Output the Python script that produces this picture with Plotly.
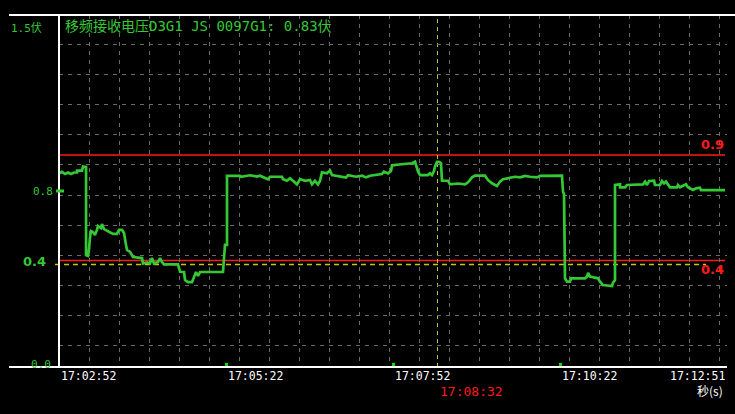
import plotly.graph_objects as go

# ---- data (seconds after 17:02:52, volts) ----
t_sec = [0, 2.7, 5.4, 8.1, 10.8, 13.5, 16.2, 16.2, 20.7, 21.6,
         24.3, 24.3, 26.0, 26.9, 27.8, 28.7, 30.5, 32.3, 34.1, 35.0,
         37.7, 38.6, 40.4, 44.0, 48.5, 52.1, 53.9, 56.6, 58.4, 60.2,
         61.1, 63.8, 66.5, 74.6, 75.4, 79.0, 81.7, 83.5, 85.3, 88.9,
         90.7, 92.5, 94.3, 106.9, 108.7, 112.3, 113.2, 115.9, 119.5, 121.3,
         123.1, 124.9, 126.7, 147.3, 148.2, 149.1, 150.9, 150.9, 162.6, 163.5,
         171.6, 177.8, 180.5, 184.1, 187.7, 189.5, 200.3, 201.2, 204.8, 207.5,
         212.0, 213.8, 216.5, 221.0, 225.4, 227.2, 229.9, 232.6, 234.4, 236.2,
         240.7, 243.4, 245.2, 252.4, 257.8, 259.6, 266.8, 272.2, 275.7, 279.3,
         286.5, 290.1, 291.9, 295.5, 298.2, 299.1, 305.4, 310.8, 317.1, 319.8,
         320.7, 322.5, 324.3, 331.4, 333.2, 335.0, 336.8, 337.7, 339.5, 341.3,
         343.1, 344.0, 349.4, 351.2, 358.4, 364.7, 367.4, 371.0, 373.7, 382.6,
         385.3, 388.9, 393.4, 396.1, 398.8, 402.4, 409.6, 414.1, 418.6, 423.1,
         429.4, 432.0, 438.3, 451.8, 452.7, 453.6, 454.5, 456.3, 459.0, 459.9,
         472.5, 474.3, 475.2, 477.0, 484.1, 485.9, 488.6, 496.7, 497.6, 499.4,
         499.4, 503.9, 503.9, 508.4, 510.2, 524.6, 526.4, 528.2, 530.0, 534.5,
         535.3, 539.8, 541.6, 543.4, 545.2, 547.0, 548.8, 555.1, 556.0, 557.8,
         560.5, 563.2, 564.9, 569.5, 572.2, 575.7, 576.6, 598.2]

volts = [.813, .820, .810, .817, .810, .817, .817, .826, .826, .845,
         .843, .426, .422, .450, .507, .540, .535, .521, .545, .564,
         .554, .573, .549, .540, .526, .526, .545, .545, .531, .474,
         .450, .441, .417, .412, .386, .391, .386, .412, .386, .393,
         .412, .393, .382, .382, .347, .346, .308, .298, .298, .322,
         .346, .327, .346, .346, .393, .474, .474, .801, .801, .797,
         .804, .798, .802, .794, .785, .797, .797, .785, .778, .790,
         .771, .761, .786, .778, .782, .761, .778, .761, .777, .818,
         .813, .826, .805, .797, .793, .804, .797, .802, .794, .802,
         .807, .810, .821, .813, .824, .851, .855, .857, .861, .868,
         .848, .821, .805, .805, .813, .805, .824, .845, .868, .868,
         .861, .778, .778, .761, .765, .761, .771, .794, .802, .802,
         .782, .766, .753, .774, .785, .790, .797, .794, .801, .797,
         .794, .801, .802, .802, .726, .715, .316, .300, .300, .316,
         .316, .324, .342, .324, .316, .300, .284, .279, .295, .308,
         .758, .761, .747, .747, .758, .761, .774, .758, .777, .778,
         .758, .758, .777, .766, .774, .758, .747, .747, .758, .747,
         .755, .761, .747, .734, .742, .745, .734, .734]

assert len(t_sec) == len(volts), (len(t_sec), len(volts))

tick_secs = [0, 150, 300, 450]
tick_labels = ["17:02:52", "17:05:22", "17:07:52", "17:10:22"]
end_sec = 600
end_label = "17:12:51"
cursor_sec = 340
cursor_label = "17:08:32"
upper_limit = 0.9
lower_limit = 0.4
ref_level = 0.382
title_text = "移频接收电压D3G1 JS 0097G1: 0.83伏"

GREEN = "#34c834"
RED = "#ff1a1a"
YEL = "#c8c800"
GRID = "#6a6a6a"
MONO = "DejaVu Sans Mono, Noto Sans CJK SC"

W, H = 735, 414
L, R, T, B = 59, 8, 15, 47
PW, PH = W - L - R, H - T - B


def px(xp):
    return (xp - L) / PW


def py(yp):
    return (H - B - yp) / PH


fig = go.Figure()
fig.add_trace(go.Scatter(x=t_sec, y=volts, mode="lines",
                         line=dict(color=GREEN, width=2.7),
                         hoverinfo="skip", showlegend=False))

fig.update_layout(
    width=W, height=H,
    margin=dict(l=L, r=R, t=T, b=B, pad=0),
    paper_bgcolor="#000000", plot_bgcolor="#000000",
    showlegend=False,
    xaxis=dict(range=[0, end_sec], showgrid=False, zeroline=False,
               tickmode="array", tickvals=tick_secs, showticklabels=False,
               ticks="inside", ticklen=4, tickwidth=3, tickcolor="#00e000",
               showline=False, fixedrange=True,
               minor=dict(tickmode="linear", tick0=0, dtick=26.946,
                          showgrid=True, gridcolor=GRID, gridwidth=1,
                          griddash="4px,5px", ticks="")),
    yaxis=dict(range=[-0.104, 1.563], tickmode="linear", tick0=0, dtick=0.14211,
               showgrid=True, gridcolor=GRID, gridwidth=1, griddash="4px,5px",
               showticklabels=False, zeroline=False, ticks="", fixedrange=True),
)

shapes = []
# frame
shapes.append(dict(type="line", xref="paper", yref="paper", x0=px(9), x1=px(735), y0=1, y1=1,
                   line=dict(color="white", width=2)))
shapes.append(dict(type="line", xref="paper", yref="paper", x0=px(9), x1=1, y0=0, y1=0,
                   line=dict(color="white", width=2)))
shapes.append(dict(type="line", xref="paper", yref="paper", x0=0, x1=0, y0=0, y1=1,
                   line=dict(color="white", width=2)))
# limit lines
for lv in (upper_limit, lower_limit):
    shapes.append(dict(type="line", xref="paper", yref="y", x0=0, x1=px(725), y0=lv, y1=lv,
                       line=dict(color=RED, width=1.5), layer="below"))
# reference dashed
shapes.append(dict(type="line", xref="paper", yref="y", x0=px(55), x1=px(706), y0=ref_level, y1=ref_level,
                   line=dict(color=YEL, width=1.5, dash="5px,4px"), layer="below"))
# cursor
shapes.append(dict(type="line", xref="x", yref="paper", x0=cursor_sec, x1=cursor_sec, y0=0, y1=1,
                   line=dict(color=YEL, width=1, dash="4px,4px"), layer="below"))
# 0.8 marker
shapes.append(dict(type="line", xref="paper", yref="paper", x0=px(56), x1=px(64), y0=py(191), y1=py(191),
                   line=dict(color=GREEN, width=3)))
fig.update_layout(shapes=shapes)

ann = []
ann.append(dict(text=title_text, xref="paper", yref="paper", x=px(63), y=py(26),
                xanchor="left", yanchor="middle", showarrow=False,
                font=dict(family=MONO, size=14, color=GREEN)))
ann.append(dict(text="1.5伏", xref="paper", yref="paper", x=px(9), y=py(28),
                xanchor="left", yanchor="middle", showarrow=False,
                font=dict(family=MONO, size=11, color=GREEN)))
ann.append(dict(text="0.8", xref="paper", yref="paper", x=px(55), y=py(191),
                xanchor="right", yanchor="middle", showarrow=False,
                font=dict(family="DejaVu Sans Mono", size=11, color=GREEN)))
ann.append(dict(text="<b>0.4</b>", xref="paper", yref="paper", x=px(48), y=py(261),
                xanchor="right", yanchor="middle", showarrow=False,
                font=dict(family="DejaVu Sans", size=13, color=GREEN)))
ann.append(dict(text="0.0", xref="paper", yref="paper", x=px(53), y=py(364),
                xanchor="right", yanchor="middle", showarrow=False,
                font=dict(family="DejaVu Sans Mono", size=11, color=GREEN)))
for s, lab in zip(tick_secs, tick_labels):
    ann.append(dict(text=lab, xref="x", yref="paper", x=s, y=py(376),
                    xanchor="left", yanchor="middle", showarrow=False,
                    font=dict(family="DejaVu Sans Mono", size=11.5, color="white")))
ann.append(dict(text=end_label, xref="x", yref="paper", x=end_sec, y=py(376),
                xanchor="right", yanchor="middle", showarrow=False,
                font=dict(family="DejaVu Sans Mono", size=11.5, color="white")))
ann.append(dict(text=cursor_label, xref="x", yref="paper", x=cursor_sec, y=py(391),
                xanchor="left", yanchor="middle", showarrow=False,
                font=dict(family="DejaVu Sans Mono", size=13, color=RED)))
ann.append(dict(text="秒(s)", xref="paper", yref="paper", x=px(725), y=py(390),
                xanchor="right", yanchor="middle", showarrow=False,
                font=dict(family="Noto Sans CJK SC", size=12, color="white")))
ann.append(dict(text="<b>0.9</b>", xref="paper", yref="paper", x=px(726), y=py(145),
                xanchor="right", yanchor="middle", showarrow=False,
                font=dict(family="DejaVu Sans", size=13, color=RED)))
ann.append(dict(text="<b>0.4</b>", xref="paper", yref="paper", x=px(726), y=py(269.5),
                xanchor="right", yanchor="middle", showarrow=False,
                font=dict(family="DejaVu Sans", size=13, color=RED)))
fig.update_layout(annotations=ann)

fig.write_html(
    "out.html",
    config={"displayModeBar": False, "staticPlot": True},
    post_script="document.body.style.margin='0';document.body.style.padding='0';"
                "document.body.style.background='#000';",
)
